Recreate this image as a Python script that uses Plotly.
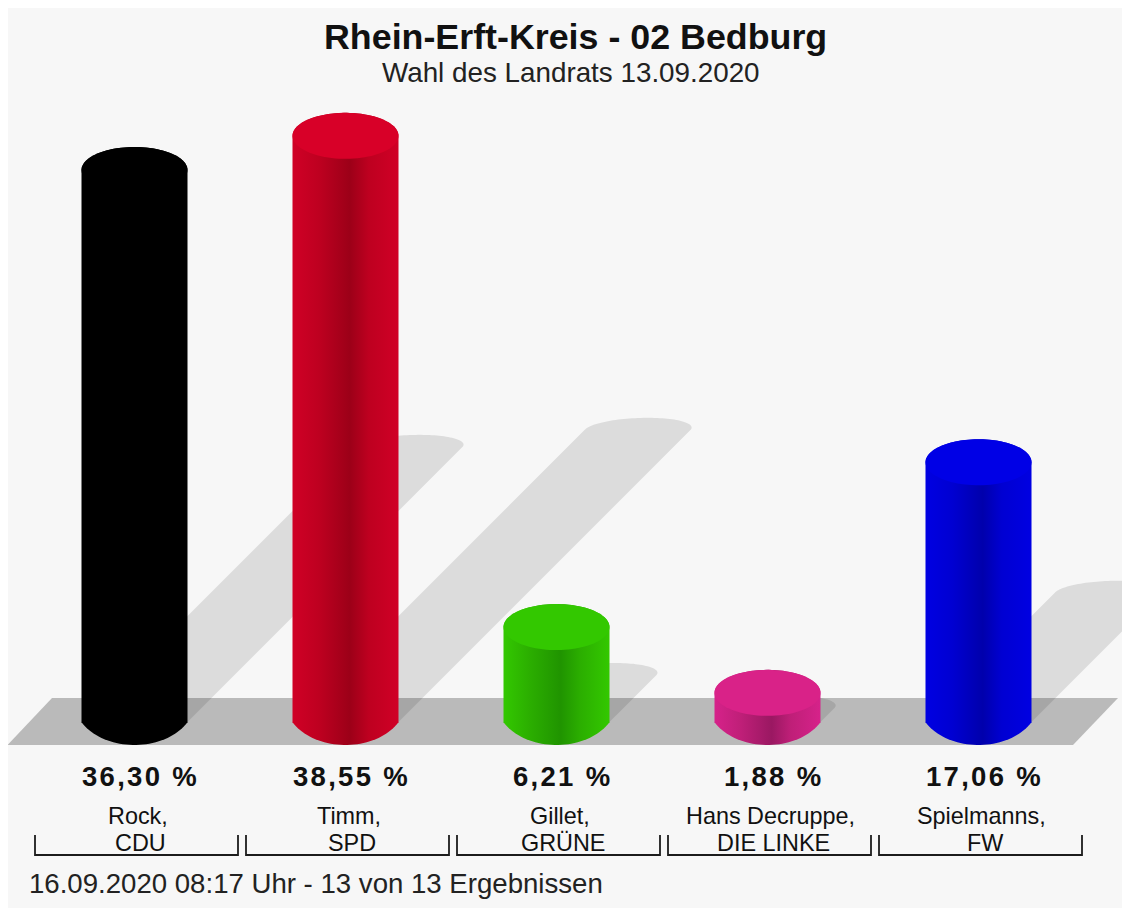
import numpy as np
import plotly.graph_objects as go

TITLE = "Rhein-Erft-Kreis - 02 Bedburg"
SUBTITLE = "Wahl des Landrats 13.09.2020"
FOOTER = "16.09.2020 08:17 Uhr - 13 von 13 Ergebnissen"
candidates = ["Rock,", "Timm,", "Gillet,", "Hans Decruppe,", "Spielmanns,"]
parties = ["CDU", "SPD", "GRÜNE", "DIE LINKE", "FW"]
shares = [36.30, 38.55, 6.21, 1.88, 17.06]
cap_colors = ["#000000", "#d80028", "#33c800", "#d92288", "#0000e6"]
edge_colors = ["#000000", "#d00026", "#33c800", "#d6228a", "#0000e2"]
mid_colors = ["#000000", "#be0020", "#2bae00", "#bf1f78", "#0000d2"]
dark_colors = ["#000000", "#9c0018", "#209400", "#9a1862", "#0000ac"]

BG = "#f7f7f7"
FLOOR = "#bababa"
FONT = "Liberation Sans"
W, H = 1130, 908
PAD = 8
X0, DX = 134.5, 211.0      # page px of first category, px per category
Y0, DY = 698.4, 15.19      # page px of value 0, px per percent


def vy(py):
    return (Y0 - py) / DY


def ix(px):
    return (px - X0) / DX


RX = 53 / DX
RY = 23 / DY
BASE = vy(722)
t = np.linspace(0, np.pi, 60)
fig = go.Figure()

# floor
fig.add_trace(go.Scatter(
    x=[ix(52), ix(1118), ix(1073), ix(7.5), ix(52)],
    y=[vy(698), vy(698), vy(745), vy(745), vy(698)],
    fill="toself", fillcolor=FLOOR, mode="none", hoverinfo="skip", showlegend=False))

# shadows
S_Y = 7.58 / DY
S_X = 7.58 / DX
S_RY = 12 / DY
SKEW = 10 / DX
for i, v in enumerate(shares):
    sy, sx = v * S_Y, v * S_X
    ax = i + sx + RX * np.cos(t) + SKEW * np.sin(t)
    ay = BASE + sy + S_RY * np.sin(t)
    xs = np.r_[i + RX, ax, i - RX, i + RX]
    ys = np.r_[BASE, ay, BASE, BASE]
    fig.add_trace(go.Scatter(x=xs, y=ys, fill="toself", fillcolor="rgba(0,0,0,0.105)",
                             mode="none", hoverinfo="skip", showlegend=False))

# cylinders
BR_X = 60 / DX
BR_Y = 43 / DY
BOT = vy(745)
for i, v in enumerate(shares):
    top_c = v - RY
    ang = np.arccos(RX / BR_X)
    b = np.linspace(ang, np.pi - ang, 40)
    bx = i + BR_X * np.cos(b)
    by = BOT + BR_Y - BR_Y * np.sin(b)
    by = np.minimum(by, BASE)
    tx = i + RX * np.cos(t[::-1])
    ty = top_c + RY * np.sin(t[::-1])
    xs = np.r_[tx, bx, tx[0]]
    ys = np.r_[ty, by, ty[0]]
    fig.add_trace(go.Scatter(
        x=xs, y=ys, fill="toself", mode="none", hoverinfo="skip", showlegend=False,
        fillgradient=dict(type="horizontal", colorscale=[
            [0, edge_colors[i]], [0.25, mid_colors[i]], [0.54, dark_colors[i]],
            [0.72, mid_colors[i]], [1, edge_colors[i]]])))
    a = np.linspace(0, 2 * np.pi, 90)
    fig.add_trace(go.Scatter(
        x=i + RX * np.cos(a), y=top_c + RY * np.sin(a), fill="toself",
        fillcolor=cap_colors[i], mode="none", hoverinfo="skip", showlegend=False))

# brackets
bx, by = [], []
for i in range(len(shares)):
    bx += [i + ix(35), i + ix(35), i + ix(238), i + ix(238), None]
    by += [vy(835), vy(855), vy(855), vy(835), None]
fig.add_trace(go.Scatter(x=bx, y=by, mode="lines", line=dict(color="#1c1c1c", width=1.8),
                         hoverinfo="skip", showlegend=False))


def note(x, py, text, size, bold=False, color="#111111", anchor="center"):
    fig.add_annotation(xref="x", yref="y", x=x, y=vy(py), text=text, showarrow=False,
                       xanchor=anchor, yanchor="middle",
                       font=dict(family=FONT, size=size, color=color,
                                 weight="bold" if bold else "normal"))


for i, v in enumerate(shares):
    label = f"{v:.2f}".replace(".", ",") + " %"
    note(i + 5 / DX, 776, "\u200a".join(label), 27.5, bold=True)
    note(i + 3 / DX, 816, candidates[i], 23.4)
    note(i + 6 / DX, 843, parties[i], 23.4)

note(ix(575), 37, TITLE, 35.8, bold=True)
note(ix(571), 72, SUBTITLE, 27.8, color="#222222")
note(ix(26.5), 883, FOOTER, 27.6, color="#222222", anchor="left")

fig.update_layout(
    width=W, height=H, margin=dict(l=0, r=0, t=0, b=0),
    paper_bgcolor=BG, plot_bgcolor=BG, showlegend=False,
    xaxis=dict(visible=False, range=[ix(PAD), ix(PAD + W)], fixedrange=True),
    yaxis=dict(visible=False, range=[vy(PAD + H), vy(PAD)], fixedrange=True),
)
fig.write_html("out.html", config={"displayModeBar": False})
